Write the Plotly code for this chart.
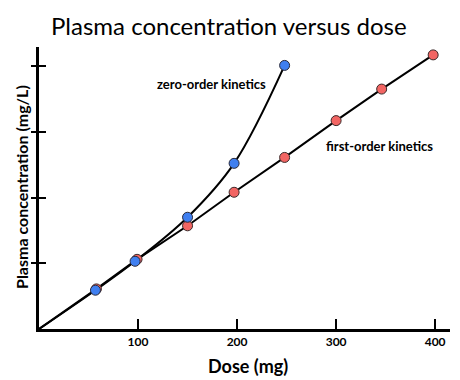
import plotly.graph_objects as go

# Data
dose_first = [0, 58, 99, 150, 197, 248, 300, 346, 398]
conc_first = [0, 0.61, 1.06, 1.57, 2.08, 2.61, 3.17, 3.65, 4.17]

dose_zero = [0, 57, 97, 150, 197, 248]
conc_zero = [0, 0.59, 1.03, 1.70, 2.52, 4.01]

x_ticks = [100, 200, 300, 400]
y_ticks = [1, 2, 3, 4]

title_text = "Plasma concentration versus dose"
x_title = "Dose (mg)"
y_title = "Plasma concentration (mg/L)"
label_zero = "zero-order kinetics"
label_first = "first-order kinetics"

BLUE = "#3f7ff0"
RED = "#f26563"
FONT = "Lato"

# page body has an 8px margin: plot area on screen spans x 39..450, y 47..329
PL, PR, PT, PB = 39, 450, 47, 329
PW, PH = PR - PL, PB - PT

def px(sx):
    return (sx - PL) / PW

def py(sy):
    return (PB - sy) / PH

fig = go.Figure()
fig.add_trace(go.Scatter(x=dose_first, y=conc_first, mode="lines",
                         line=dict(color="black", width=2), hoverinfo="skip"))
fig.add_trace(go.Scatter(x=dose_zero, y=conc_zero, mode="lines",
                         line=dict(color="black", width=2, shape="spline", smoothing=1),
                         hoverinfo="skip"))
fig.add_trace(go.Scatter(x=dose_first[1:], y=conc_first[1:], mode="markers",
                         marker=dict(color=RED, size=10, line=dict(color="#3a2a2a", width=1))))
fig.add_trace(go.Scatter(x=dose_zero[1:], y=conc_zero[1:], mode="markers",
                         marker=dict(color=BLUE, size=10, line=dict(color="#2a2a3a", width=1))))
# invisible trace to attach the overlay y-axis
fig.add_trace(go.Scatter(x=[0], y=[0], yaxis="y2", mode="markers",
                         marker=dict(size=0, opacity=0), hoverinfo="skip"))

fig.add_annotation(x=174, y=3.73, text=label_zero, showarrow=False,
                   font=dict(family=FONT, size=13, color="black", weight="bold"))
fig.add_annotation(x=344, y=2.79, text=label_first, showarrow=False,
                   font=dict(family=FONT, size=13, color="black", weight="bold"))

# titles as paper annotations
fig.add_annotation(xref="paper", yref="paper", x=px(248), y=py(366),
                   text=x_title, showarrow=False, xanchor="center", yanchor="middle",
                   font=dict(family=FONT, size=18, color="black", weight="bold"))
fig.add_annotation(xref="paper", yref="paper", x=px(21), y=py(187),
                   text=y_title, showarrow=False, textangle=-90,
                   xanchor="center", yanchor="middle",
                   font=dict(family=FONT, size=16, color="black", weight="bold"))
fig.add_annotation(xref="paper", yref="paper", x=px(229), y=py(25),
                   text=title_text, showarrow=False, xanchor="center", yanchor="middle",
                   font=dict(family=FONT, size=24, color="black"))

Y_MAX = 4.29
fig.update_layout(
    width=452, height=372,
    margin=dict(l=PL - 8, r=(460 - 8) - (PR - 8), t=PT - 8, b=(380 - 8) - (PB - 8),
                autoexpand=False),
    paper_bgcolor="white", plot_bgcolor="white",
    showlegend=False,
    xaxis=dict(range=[0, 415], showgrid=False, zeroline=False, automargin=False,
               showline=True, linecolor="black", linewidth=3,
               tickvals=x_ticks, ticks="inside", ticklen=10, tickwidth=2, tickcolor="black",
               tickfont=dict(family=FONT, size=12, color="black", weight="bold")),
    yaxis=dict(range=[0, Y_MAX], showgrid=False, zeroline=False, automargin=False,
               showline=True, linecolor="black", linewidth=3,
               tickvals=y_ticks, ticks="outside", ticklen=5, tickwidth=2, tickcolor="black",
               showticklabels=False),
    yaxis2=dict(range=[0, Y_MAX], overlaying="y", side="left", showgrid=False, zeroline=False,
                automargin=False,
                showline=False, tickvals=y_ticks, ticks="inside", ticklen=7, tickwidth=2,
                tickcolor="black", showticklabels=False),
)

fig.write_html("out.html")
